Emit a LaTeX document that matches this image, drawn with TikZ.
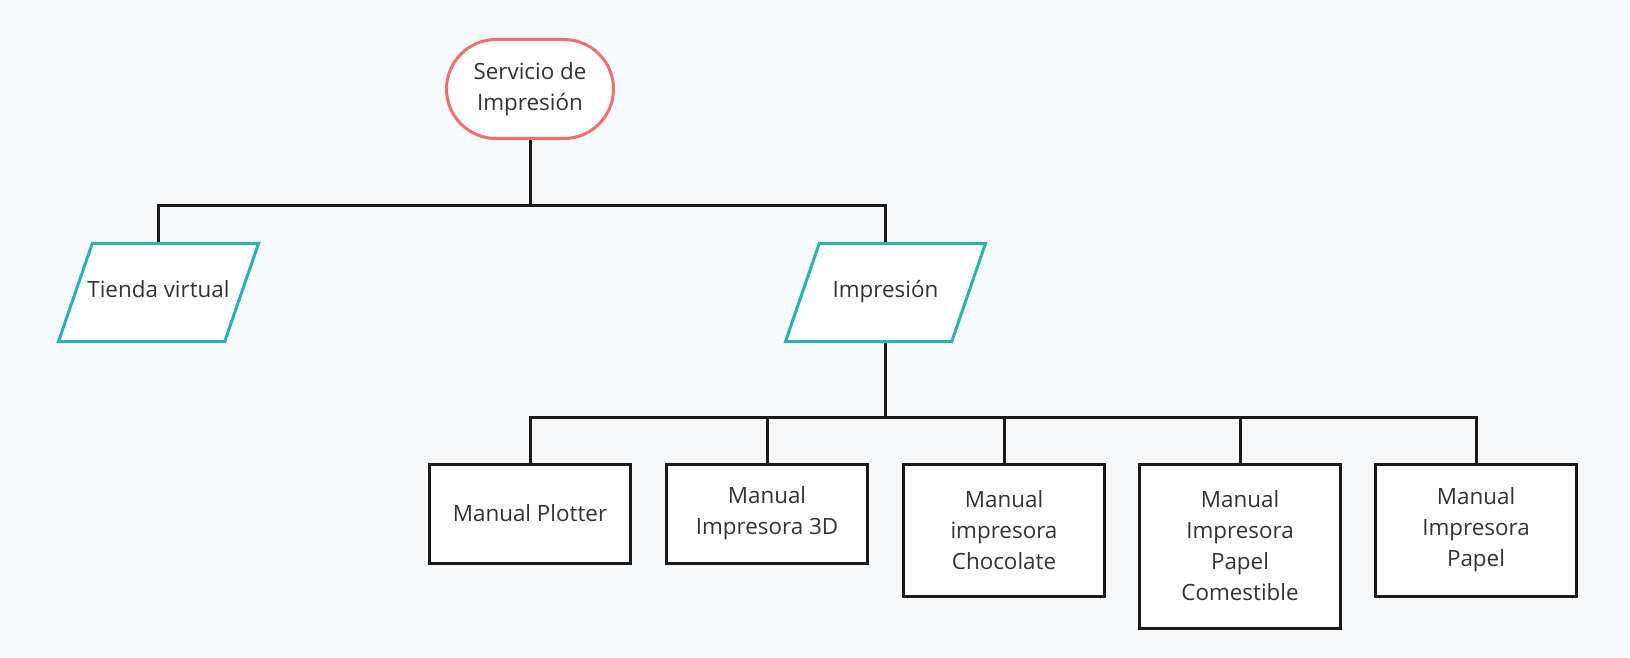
\documentclass[tikz,border=0pt]{standalone}
\usepackage{fontspec}
\setmainfont{Open Sans}
\usepackage{tikz}
\usetikzlibrary{shapes.geometric,shapes.misc}
\definecolor{fondo}{RGB}{248,249,251}
\definecolor{rojo}{RGB}{240,112,112}
\definecolor{verde}{RGB}{42,178,171}
\definecolor{linea}{RGB}{26,26,26}
\definecolor{texto}{RGB}{51,51,51}

\begin{document}
\begin{tikzpicture}[x=0.5pt,y=-0.5pt,
  every node/.style={font=\fontsize{11.2pt}{15.5pt}\selectfont,text=texto,align=center,inner sep=2pt},
  term/.style={rounded rectangle,draw=rojo,fill=white,line width=1.5pt,minimum width=87.5pt,minimum height=49.5pt},
  datos/.style={trapezium,trapezium left angle=71,trapezium right angle=109,trapezium stretches body=true,draw=verde,fill=white,line width=1.5pt,
    text height=8pt,text depth=3pt,inner ysep=19pt,inner xsep=0pt,minimum width=100pt},
  caja/.style={rectangle,draw=linea,fill=white,line width=1.5pt,minimum width=100.5pt,anchor=north},
  link/.style={draw=linea,line width=1.5pt}]
  \fill[fondo] (0,0) rectangle (1630,658);

  \node[term] (serv) at (530,89) {Servicio de\\Impresión};
  \node[datos,inner xsep=-3.5pt] (tienda) at (158.5,292.5) {Tienda virtual};
  \node[datos] (impr) at (885.5,292.5) {Impresión};

  \node[caja,minimum height=49.5pt] (m1) at (530,462.5) {Manual Plotter};
  \node[caja,minimum height=49.5pt] (m2) at (767,462.5) {Manual\\Impresora 3D};
  \node[caja,minimum height=66pt] (m3) at (1004,462.5) {Manual\\impresora\\Chocolate};
  \node[caja,minimum height=82pt] (m4) at (1240,462.5) {Manual\\Impresora\\Papel\\Comestible};
  \node[caja,minimum height=66pt] (m5) at (1476,462.5) {Manual\\Impresora\\Papel};

  \coordinate (b1) at (530,206);
  \coordinate (b2) at (885.5,417);

  \draw[link] (serv.south) -- (b1);
  \draw[link] (tienda.center |- tienda.north) |- (b1) -| (impr.center |- impr.north);
  \draw[link] (impr.center |- impr.south) -- (b2);
  \draw[link] (m1.north) |- (b2) -| (m5.north);
  \foreach \m in {m2,m3,m4}
    \draw[link] (\m.north) -- (\m.north |- b2);
\end{tikzpicture}
\end{document}
